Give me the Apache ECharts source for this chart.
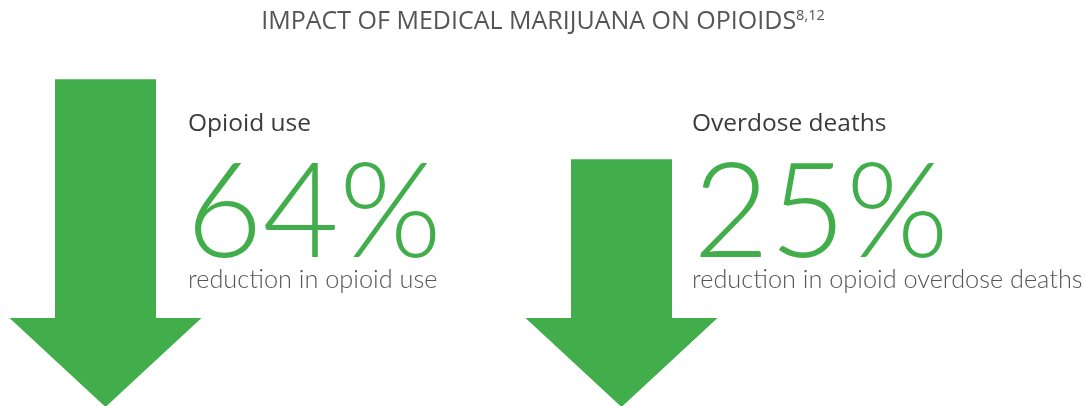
<!DOCTYPE html>
<html><head><meta charset="utf-8">
<script src="https://cdn.jsdelivr.net/npm/echarts@6/dist/echarts.min.js"></script>
<style>html,body{margin:0;padding:0;background:#fff}#c{width:1086px;height:406px}</style>
</head><body><div id="c"></div>
<script>
const categories = ['Opioid use', 'Overdose deaths'];
const percentValues = [64, 25];
const descriptions = ['reduction in opioid use', 'reduction in opioid overdose deaths'];
const arrowLengths = [80.5, 60.8];
const titleText = 'IMPACT OF MEDICAL MARIJUANA ON OPIOIDS';
const titleRefs = '8,12';

const GREEN = '#42ae4b';
const FONT = 'Lato, "Noto Sans", sans-serif';
const FONT2 = '"Open Sans", "Noto Sans", sans-serif';
const chart = echarts.init(document.getElementById('c'));

const textX = [188, 692];
const pctX = [186, 693];
const graphics = [{
  type: 'text', x: 543, y: 22,
  style: {
    text: '{t|' + titleText + '}{s|' + titleRefs + '}',
    align: 'center', verticalAlign: 'middle',
    rich: {
      t: { fontFamily: FONT2, fontSize: 25, fill: '#555555', fontWeight: 'normal' },
      s: { fontFamily: FONT2, fontSize: 14.5, fill: '#555555', padding: [0, 0, 12, 0] }
    }
  }
}];
categories.forEach((c, i) => {
  graphics.push({ type: 'text', x: textX[i], y: 124, style: { text: c, fontFamily: FONT2, fontSize: 24.5, fill: '#3b3b3b', fontWeight: 500, verticalAlign: 'middle' } });
  graphics.push({ type: 'text', x: pctX[i], y: 214, style: { text: percentValues[i] + '%', fontFamily: FONT, fontSize: 132, fill: GREEN, fontWeight: 300, verticalAlign: 'middle' } });
  graphics.push({ type: 'text', x: textX[i], y: 280, style: { text: descriptions[i], fontFamily: FONT, fontSize: 25.3, fill: '#555555', fontWeight: 300, verticalAlign: 'middle' } });
});

chart.setOption({
  animation: false,
  grid: { left: 105.5, right: 464.5, top: 0, bottom: 0 },
  xAxis: { type: 'category', data: categories, boundaryGap: false, show: false },
  yAxis: { type: 'value', min: 0, max: 100, show: false },
  graphic: graphics,
  series: [{
    type: 'custom',
    data: arrowLengths.map((v, i) => [i, v]),
    renderItem: function (params, api) {
      const top = api.coord([api.value(0), api.value(1)]);
      const bot = api.coord([api.value(0), 0]);
      const cx = top[0];
      const shaftHalf = 50.5, headHalf = 96, headH = 88;
      const hy = bot[1] - headH;
      return {
        type: 'polygon',
        shape: { points: [
          [cx - shaftHalf, top[1]], [cx + shaftHalf, top[1]], [cx + shaftHalf, hy],
          [cx + headHalf, hy], [cx, bot[1] + 1], [cx - headHalf, hy], [cx - shaftHalf, hy]
        ] },
        style: { fill: GREEN }
      };
    }
  }]
});
</script></body></html>
